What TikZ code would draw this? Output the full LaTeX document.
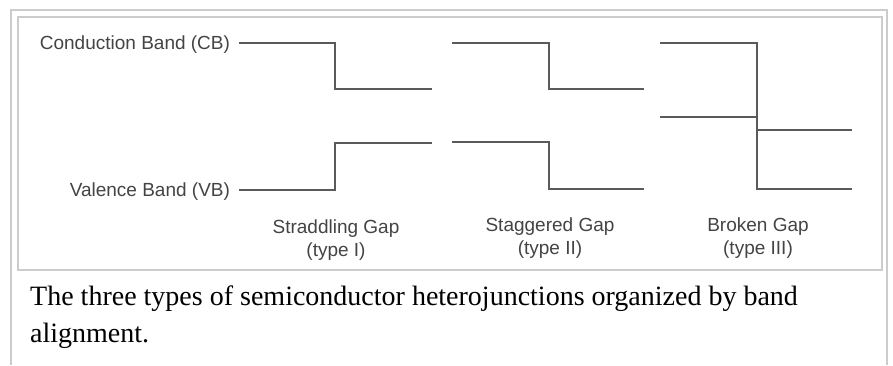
\documentclass[tikz,border=0pt]{standalone}
\usepackage{fontspec}
\setmainfont{Liberation Serif}
\newfontfamily\arialfont{Liberation Sans}
\usepackage{tikz}
\definecolor{framegray}{RGB}{204,204,204}
\definecolor{bandgray}{RGB}{90,90,90}
\definecolor{labelgray}{RGB}{68,68,68}

\begin{document}
\begin{tikzpicture}[x=1pt, y=-1pt,
    frame/.style={draw=framegray, line width=2pt},
    band/.style={draw=bandgray, line width=2pt},
    bandlabel/.style={inner sep=0pt, outer xsep=9pt, anchor=east, text=labelgray,
      font=\arialfont\fontsize{19}{22}\selectfont},
    gaplabel/.style={inner sep=0pt, anchor=base, text=labelgray, align=center,
      font=\arialfont\fontsize{19}{23}\selectfont},
    caption/.style={inner sep=0pt, anchor=base west, font=\fontsize{28}{37}\selectfont}]
  \useasboundingbox (0,0) rectangle (893,365);
  \fill[white] (0,0) rectangle (893,365);
  \draw[frame] (11,365) -- (11,10) -- (887,10) -- (887,365);
  \draw[frame] (18,17) rectangle (882,270);

  \node[bandlabel] (cb) at (239,45) {Conduction Band (CB)};
  \node[bandlabel] (vb) at (239,192) {Valence Band (VB)};

  \coordinate (a1) at (335,43);
  \coordinate (a2) at (335,89);
  \coordinate (a3) at (432,89);
  \coordinate (a4) at (335,190);
  \coordinate (a5) at (335,143);
  \coordinate (a6) at (432,143);
  \draw[band] (cb.east |- a1) -- (a1) -- (a2) -- (a3);
  \draw[band] (vb.east |- a4) -- (a4) -- (a5) -- (a6);

  \coordinate (b1) at (452,43);
  \coordinate (b2) at (549,43);
  \coordinate (b3) at (549,89);
  \coordinate (b4) at (644,89);
  \coordinate (b5) at (452,142);
  \coordinate (b6) at (549,142);
  \coordinate (b7) at (549,189);
  \coordinate (b8) at (644,189);
  \draw[band] (b1) -- (b2) -- (b3) -- (b4);
  \draw[band] (b5) -- (b6) -- (b7) -- (b8);

  \coordinate (c1) at (660,43);
  \coordinate (c2) at (757,43);
  \coordinate (c3) at (757,189);
  \coordinate (c4) at (852,189);
  \coordinate (c5) at (660,117);
  \coordinate (c6) at (757,117);
  \coordinate (c7) at (757,130);
  \coordinate (c8) at (852,130);
  \draw[band] (c1) -- (c2) -- (c3) -- (c4);
  \draw[band] (c5) -- (c6);
  \draw[band] (c7) -- (c8);

  \node[gaplabel] (g1) at (336,256) {Straddling Gap\\(type I)};
  \node[gaplabel] (g2) at (550,254) {Staggered Gap\\(type II)};
  \node[gaplabel] (g3) at (758,254) {Broken Gap\\(type III)};

  \node[caption] (t1) at (30,305) {The three types of semiconductor heterojunctions organized by band};
  \node[caption] (t2) at (30,342) {alignment.};
\end{tikzpicture}
\end{document}
